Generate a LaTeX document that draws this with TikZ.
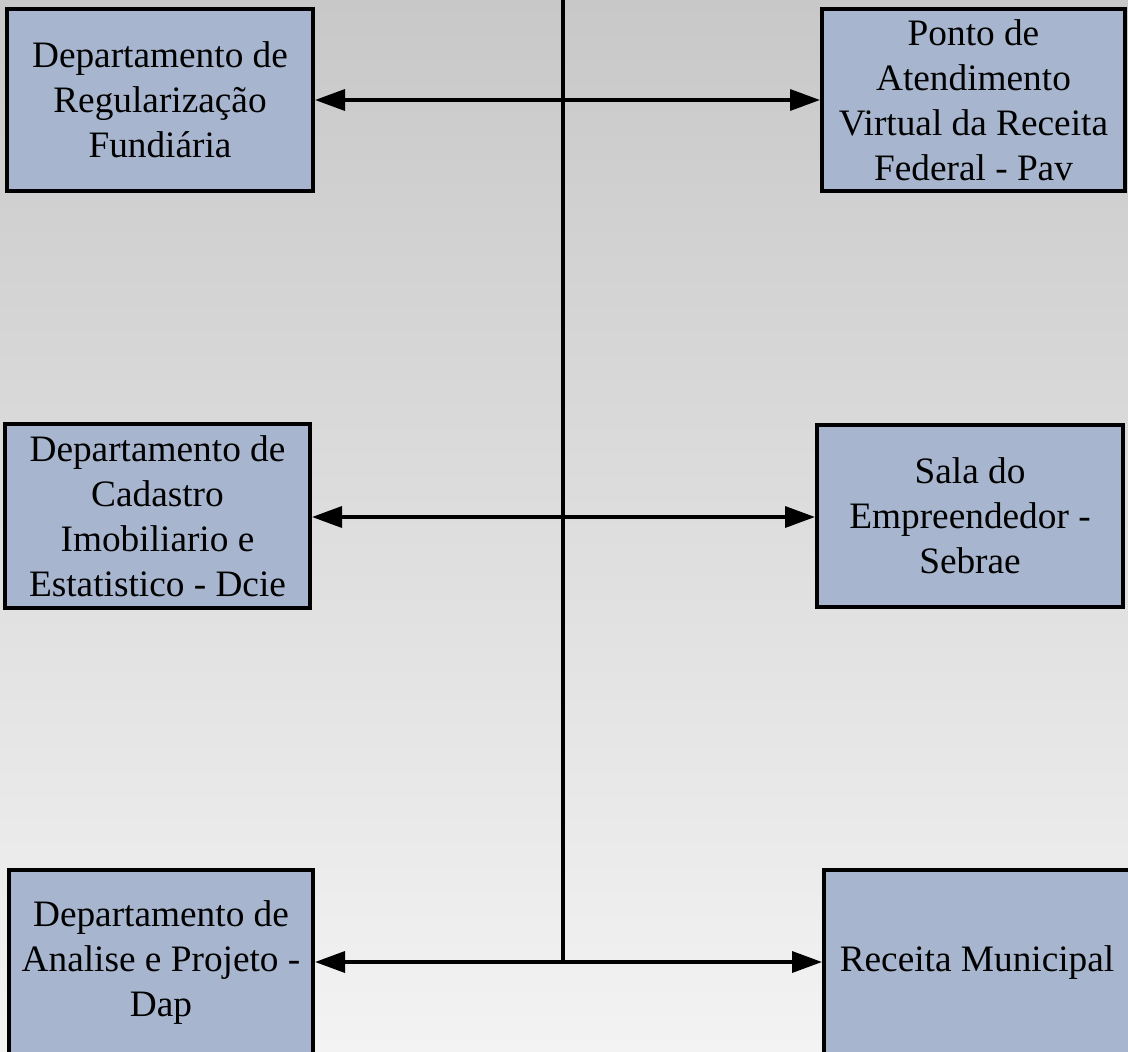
\documentclass[tikz,border=0pt]{standalone}
\usepackage{fontspec}
\setmainfont{Liberation Serif}
\usetikzlibrary{arrows.meta}
\definecolor{bgtop}{RGB}{200,200,200}
\definecolor{bgbot}{RGB}{243,243,243}
\definecolor{boxfill}{RGB}{167,182,206}
\tikzset{
  unitbox/.style={draw=black, line width=4pt, fill=boxfill, inner sep=0pt,
    align=center, font=\fontsize{37.3}{45}\selectfont, text=black},
  link/.style={line width=3.5pt, draw=black,
    -{Triangle[length=30pt,width=21pt]}},
  trunk/.style={line width=3.5pt, draw=black}
}
\begin{document}
\begin{tikzpicture}[x=1pt,y=-1pt]
\useasboundingbox (0,0) rectangle (1128,1052);
\shade[top color=bgtop, bottom color=bgbot] (0,0) rectangle (1128,1052);

\node[unitbox, minimum width=306pt, minimum height=182pt] (tl) at (160,100)
  {Departamento de\\Regularização\\Fundiária};
\node[unitbox, minimum width=303pt, minimum height=182pt] (tr) at (973.5,100)
  {Ponto de\\Atendimento\\Virtual da Receita\\Federal - Pav};
\node[unitbox, minimum width=305pt, minimum height=184pt] (ml) at (157.5,516)
  {Departamento de\\Cadastro\\Imobiliario e\\Estatistico - Dcie};
\node[unitbox, minimum width=306pt, minimum height=182pt] (mr) at (970,516)
  {Sala do\\Empreendedor -\\Sebrae};
\node[unitbox, minimum width=304pt, minimum height=186pt] (bl) at (161,963)
  {Departamento de\\Analise e Projeto -\\Dap};
\node[unitbox, minimum width=306pt, minimum height=186pt] (br) at (977,963)
  {Receita Municipal};

\coordinate (top) at (563,-5);
\coordinate (j1) at (563,100);
\coordinate (j2) at (563,517);
\coordinate (j3) at (563,962);

\draw[trunk] (top) -- ([yshift=-1.75pt]j3);
\draw[link] (j1) -- (tl.east |- j1);
\draw[link] (j1) -- (tr.west |- j1);
\draw[link] (j2) -- (ml.east |- j2);
\draw[link] (j2) -- (mr.west |- j2);
\draw[link] (j3) -- (bl.east |- j3);
\draw[link] (j3) -- (br.west |- j3);
\end{tikzpicture}
\end{document}
